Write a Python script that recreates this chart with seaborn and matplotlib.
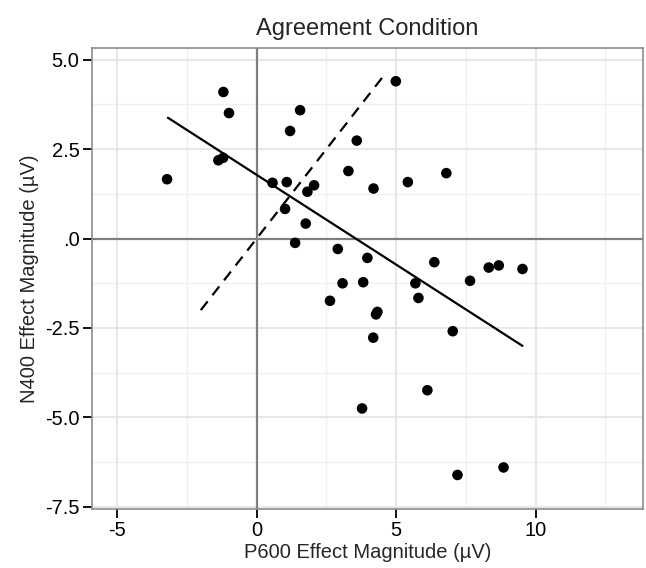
import numpy as np
import pandas as pd
import matplotlib
matplotlib.use("Agg")
import matplotlib.pyplot as plt
import seaborn as sns
from matplotlib.ticker import FixedLocator, FixedFormatter

# point data
p600 = [-3.21, -1.19, -0.99, -1.37, -1.20, 0.57, 1.08, 1.56, 1.20, 1.82,
        2.06, 1.02, 1.76, 1.38, 3.59, 3.29, 4.19, 2.91, 3.97, 4.99,
        5.42, 6.80, 6.37, 8.32, 8.68, 9.53, 3.08, 3.82, 2.63, 5.69,
        5.80, 7.65, 4.28, 4.33, 4.18, 7.03, 6.12, 3.78, 7.20, 8.85]
n400 = [1.66, 4.10, 3.51, 2.19, 2.26, 1.56, 1.58, 3.59, 3.01, 1.31,
        1.49, 0.83, 0.42, -0.12, 2.74, 1.89, 1.40, -0.29, -0.54, 4.40,
        1.58, 1.83, -0.66, -0.81, -0.75, -0.85, -1.25, -1.22, -1.74, -1.25,
        -1.66, -1.18, -2.12, -2.05, -2.77, -2.59, -4.24, -4.75, -6.61, -6.40]

# regression line and identity line endpoints
fit_x = [-3.18, 9.53]
fit_y = [3.38, -3.00]
ident_x = [-2.0, 4.5]
ident_y = [-2.0, 4.5]

xticks = [-5, 0, 5, 10]
xlabels = ["-5", "0", "5", "10"]
yticks = [5.0, 2.5, 0.0, -2.5, -5.0, -7.5]
ylabels = ["5.0", "2.5", ".0", "-2.5", "-5.0", "-7.5"]

sns.set_style("white")
plt.rcParams['font.family'] = ['Liberation Sans', 'DejaVu Sans']

fig = plt.figure(figsize=(6.46, 5.68), dpi=100)
ax = fig.add_axes([0.1424, 0.1040, 0.8530, 0.8115])

df = pd.DataFrame({"P600": p600, "N400": n400})

# grid
for v in [-2.5, 2.5, 7.5, 12.5]:
    ax.axvline(v, color="#f0f0f0", lw=1.0, zorder=0)
for v in [-6.25, -3.75, -1.25, 1.25, 3.75]:
    ax.axhline(v, color="#f0f0f0", lw=1.0, zorder=0)
for v in [-5, 5, 10]:
    ax.axvline(v, color="#e3e3e3", lw=1.2, zorder=0)
for v in [-7.5, -5.0, -2.5, 2.5, 5.0]:
    ax.axhline(v, color="#e3e3e3", lw=1.2, zorder=0)
ax.axvline(0, color="#7f7f7f", lw=1.6, zorder=1)
ax.axhline(0, color="#7f7f7f", lw=1.6, zorder=1)

sns.lineplot(x=ident_x, y=ident_y, ax=ax, color="black", lw=1.6,
             linestyle=(0, (5, 3.5)), zorder=2)
sns.lineplot(x=fit_x, y=fit_y, ax=ax, color="black", lw=1.6, zorder=2)
sns.scatterplot(data=df, x="P600", y="N400", ax=ax, color="black", s=58,
                edgecolor="none", zorder=3)

ax.set_xlim(-5.9, 13.85)
ax.set_ylim(-7.56, 5.33)
ax.xaxis.set_major_locator(FixedLocator(xticks))
ax.xaxis.set_major_formatter(FixedFormatter(xlabels))
ax.yaxis.set_major_locator(FixedLocator(yticks))
ax.yaxis.set_major_formatter(FixedFormatter(ylabels))
ax.tick_params(axis="both", direction="out", length=6.5, width=1.3,
               color="black", labelsize=14.5, labelcolor="black", pad=2.5,
               bottom=True, left=True)

for sp in ax.spines.values():
    sp.set_color("#8c8c8c")
    sp.set_linewidth(1.2)

ax.set_xlabel("P600 Effect Magnitude (µV)", fontsize=14.5, labelpad=2)
ax.set_ylabel("N400 Effect Magnitude (µV)", fontsize=14.5, labelpad=4)
ax.set_title("Agreement Condition", fontsize=17, pad=9)

fig.savefig("out.png", dpi=100, facecolor="white")
